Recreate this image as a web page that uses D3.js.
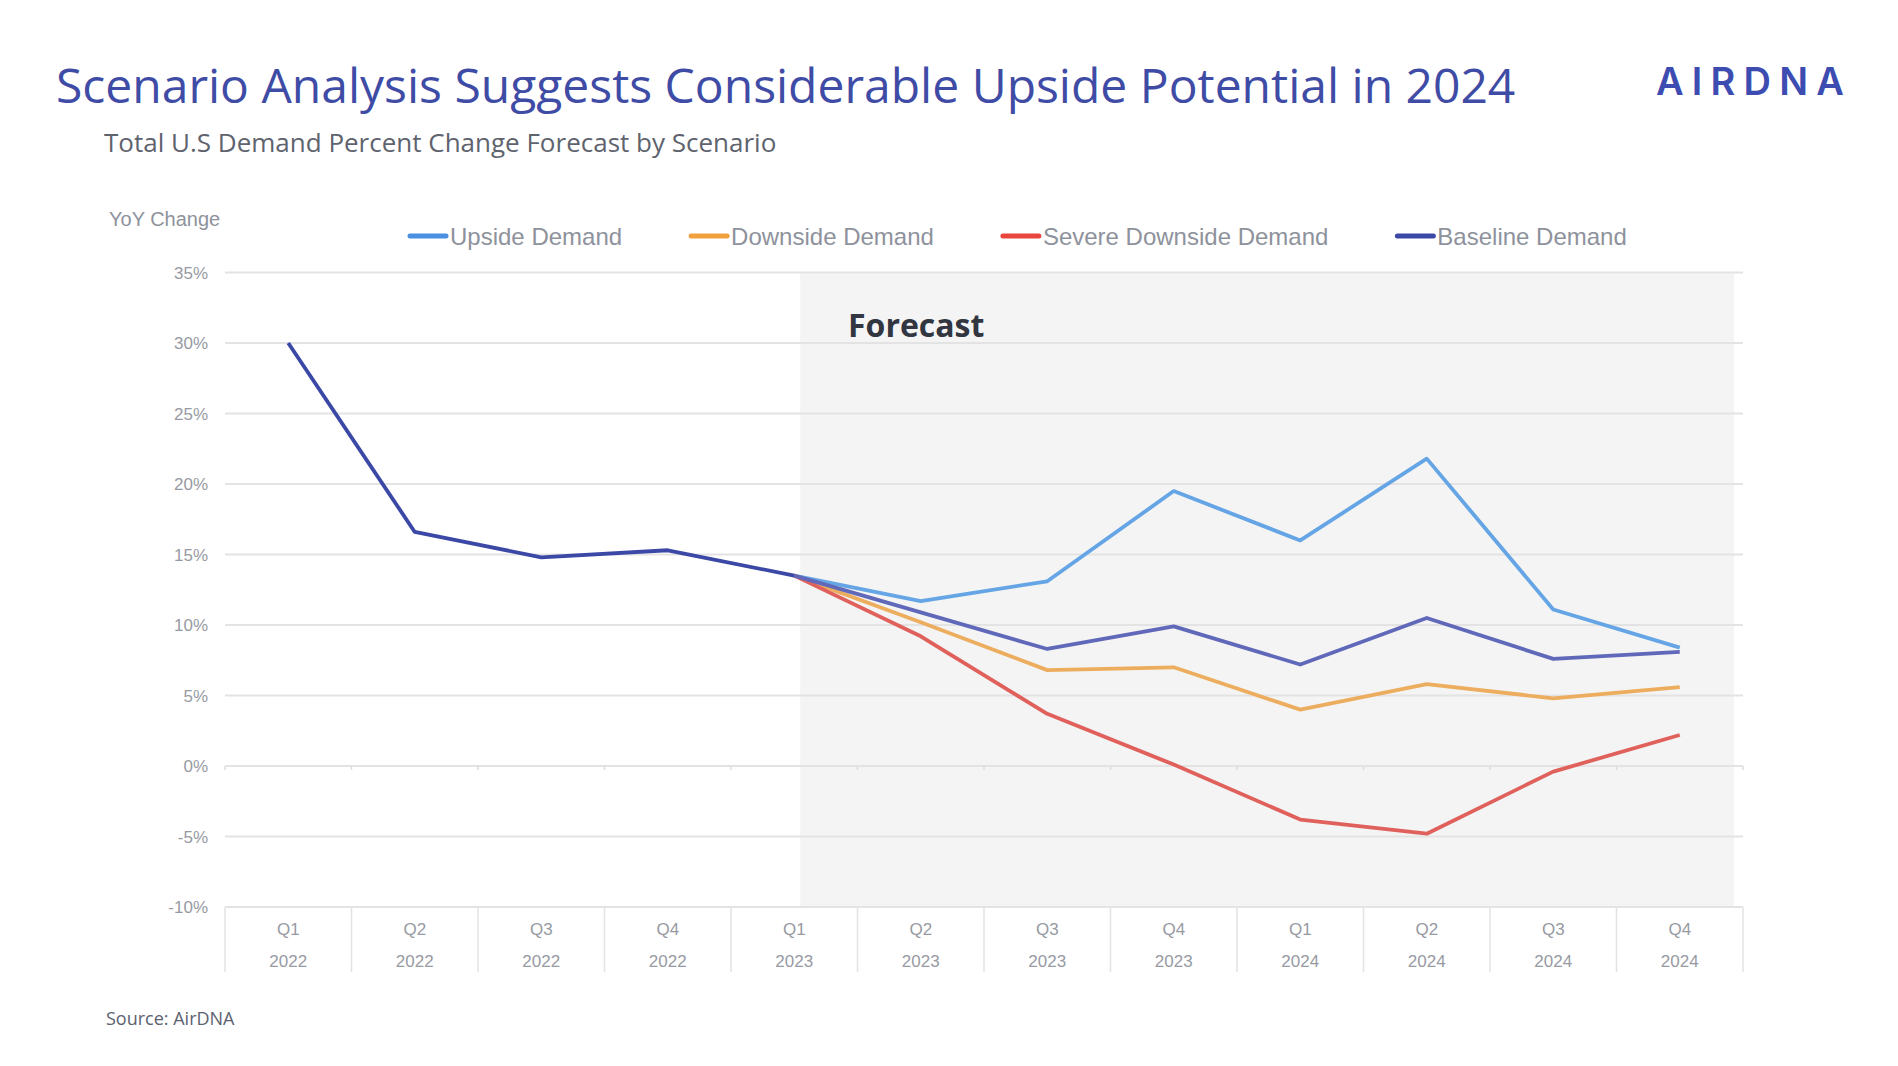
<!DOCTYPE html>
<html>
<head>
<meta charset="utf-8">
<script src="https://cdn.jsdelivr.net/npm/d3@7"></script>
<style>
  html, body { margin: 0; padding: 0; background: #ffffff; }
  svg { display: block; }
</style>
</head>
<body>
<svg id="chart" width="1898" height="1066"></svg>
<script>
// ---------------- DATA ----------------
const quarters = ["Q1","Q2","Q3","Q4","Q1","Q2","Q3","Q4","Q1","Q2","Q3","Q4"];
const years    = ["2022","2022","2022","2022","2023","2023","2023","2023","2024","2024","2024","2024"];
const yTicks   = [-10, -5, 0, 5, 10, 15, 20, 25, 30, 35];

const upsideDemand         = [null, null, null, null, 13.5, 11.7, 13.1, 19.5, 16.0, 21.8, 11.1, 8.4];
const downsideDemand       = [null, null, null, null, 13.5, 10.2, 6.8, 7.0, 4.0, 5.8, 4.8, 5.6];
const severeDownsideDemand = [null, null, null, null, 13.5, 9.2, 3.7, 0.1, -3.8, -4.8, -0.4, 2.2];
const baselineDemand       = [30.0, 16.6, 14.8, 15.3, 13.5, 10.9, 8.3, 9.9, 7.2, 10.5, 7.6, 8.1];

const seriesNames = ["Upside Demand", "Downside Demand", "Severe Downside Demand", "Baseline Demand"];
const forecastStartIndex = 4;

// ---------------- STYLE ----------------
const lineColors   = { up: "#65a5e5", down: "#ecae5e", severe: "#e0615b", baseHist: "#3b48a6", baseFc: "#6069b9" };
const legendColors = ["#4a90e2", "#f0a03c", "#e8453c", "#3b48a6"];

const svg = d3.select("#chart");
const cats = quarters.map((q, i) => i);

const x = d3.scaleBand().domain(cats).range([225, 1743]).padding(0);
const y = d3.scaleLinear().domain([-10, 35]).range([907, 272.5]);
const cx = i => x(i) + x.bandwidth() / 2;

// Title, subtitle, logo
svg.append("text").attr("x", 56).attr("y", 103)
  .attr("font-family", "'Open Sans', sans-serif").attr("font-size", 48)
  .attr("fill", "#3f4ca6").text("Scenario Analysis Suggests Considerable Upside Potential in 2024");

svg.append("text").attr("x", 104).attr("y", 152)
  .attr("font-family", "'Open Sans', sans-serif").attr("font-size", 26)
  .attr("fill", "#5e636e").text("Total U.S Demand Percent Change Forecast by Scenario");

svg.append("text").attr("x", 1656).attr("y", 94.5)
  .attr("font-family", "Inter, 'Open Sans', sans-serif").attr("font-size", 38).attr("font-weight", 600)
  .attr("textLength", 188).attr("lengthAdjust", "spacing")
  .attr("fill", "#3d4cb0").text("AIRDNA");

// Forecast shaded region
const shadeX0 = cx(forecastStartIndex) + 6;
const shadeX1 = x.range()[1] - 9;
svg.append("rect")
  .attr("x", shadeX0).attr("y", y(35) + 1)
  .attr("width", shadeX1 - shadeX0).attr("height", y(-10) - y(35) - 1)
  .attr("fill", "#f4f4f4");

// Gridlines
svg.append("g").selectAll("line").data(yTicks).join("line")
  .attr("x1", x.range()[0]).attr("x2", x.range()[1])
  .attr("y1", d => y(d)).attr("y2", d => y(d))
  .attr("stroke", "#e3e3e3").attr("stroke-width", 2);

// Y-axis labels
svg.append("g").selectAll("text").data(yTicks).join("text")
  .attr("x", 208).attr("y", d => y(d) + 6)
  .attr("text-anchor", "end")
  .attr("font-family", "'Liberation Sans', Arial, sans-serif").attr("font-size", 17)
  .attr("fill", "#979aa3")
  .text(d => d + "%");

svg.append("text").attr("x", 109).attr("y", 226)
  .attr("font-family", "'Liberation Sans', Arial, sans-serif").attr("font-size", 20)
  .attr("fill", "#8e929c").text("YoY Change");

// Category boundaries
const bounds = cats.map(i => x(i)).concat([x.range()[1]]);

// small ticks on the zero line
svg.append("g").selectAll("line").data(bounds).join("line")
  .attr("x1", d => d).attr("x2", d => d)
  .attr("y1", y(0)).attr("y2", y(0) + 4)
  .attr("stroke", "#dcdcdc").attr("stroke-width", 1.5);

// bottom category axis with separators
svg.append("g").selectAll("line").data(bounds).join("line")
  .attr("x1", d => d).attr("x2", d => d)
  .attr("y1", y(-10)).attr("y2", y(-10) + 65)
  .attr("stroke", "#e3e3e3").attr("stroke-width", 1.5);

const xLab = svg.append("g")
  .attr("font-family", "'Liberation Sans', Arial, sans-serif").attr("font-size", 17)
  .attr("fill", "#979aa3").attr("text-anchor", "middle");
xLab.selectAll("text.q").data(cats).join("text").attr("class", "q")
  .attr("x", d => cx(d)).attr("y", 934.5).text(d => quarters[d]);
xLab.selectAll("text.yr").data(cats).join("text").attr("class", "yr")
  .attr("x", d => cx(d)).attr("y", 967).text(d => years[d]);

// Forecast label
svg.append("text").attr("x", 848).attr("y", 337)
  .attr("font-family", "'Open Sans', sans-serif").attr("font-size", 32).attr("font-weight", 700)
  .attr("fill", "#323640").text("Forecast");

// Lines
const line = d3.line()
  .defined(d => d.v !== null)
  .x(d => cx(d.i)).y(d => y(d.v));
const toPts = arr => arr.map((v, i) => ({ i, v }));

function drawLine(pts, color) {
  svg.append("path").datum(pts)
    .attr("d", line).attr("fill", "none")
    .attr("stroke", color).attr("stroke-width", 3.8)
    .attr("stroke-linejoin", "round").attr("stroke-linecap", "butt");
}
drawLine(toPts(upsideDemand), lineColors.up);
drawLine(toPts(downsideDemand), lineColors.down);
drawLine(toPts(severeDownsideDemand), lineColors.severe);
drawLine(toPts(baselineDemand).filter(d => d.i >= forecastStartIndex), lineColors.baseFc);
drawLine(toPts(baselineDemand).filter(d => d.i <= forecastStartIndex), lineColors.baseHist);

// Legend
const legend = svg.append("g");
let lx = 408;
seriesNames.forEach((name, k) => {
  legend.append("line")
    .attr("x1", lx + 2).attr("x2", lx + 38).attr("y1", 236).attr("y2", 236)
    .attr("stroke", legendColors[k]).attr("stroke-width", 5).attr("stroke-linecap", "round");
  const t = legend.append("text").attr("x", lx + 42).attr("y", 244.5)
    .attr("font-family", "'Liberation Sans', Arial, sans-serif").attr("font-size", 24)
    .attr("fill", "#8e929c").text(name);
  lx = lx + 42 + t.node().getComputedTextLength() + 67;
});

// Source
svg.append("text").attr("x", 106).attr("y", 1025)
  .attr("font-family", "'Open Sans', sans-serif").attr("font-size", 18)
  .attr("fill", "#5c6270").text("Source: AirDNA");
</script>
</body>
</html>
